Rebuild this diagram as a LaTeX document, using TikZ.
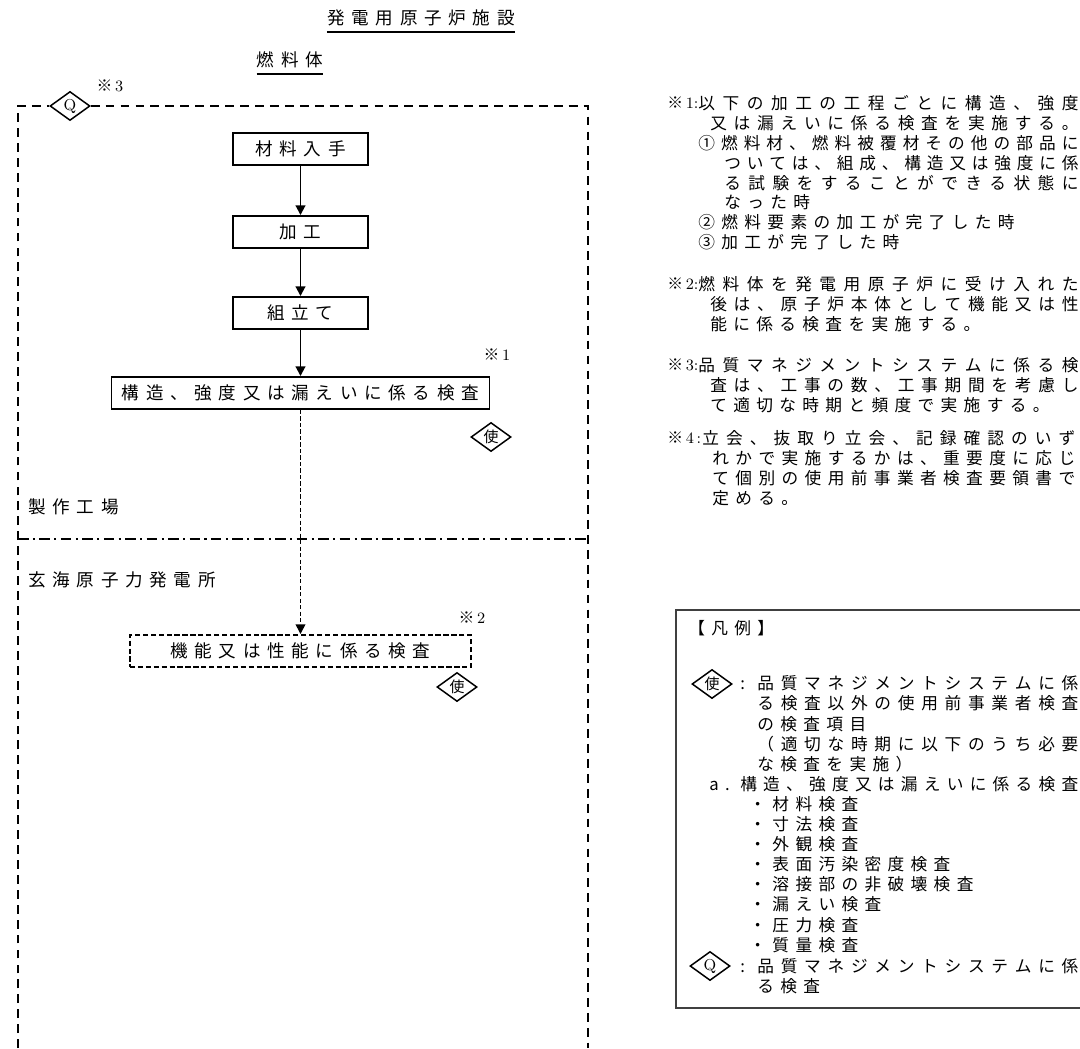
\documentclass[tikz,border=0pt]{standalone}
\usepackage{fontspec}
\usepackage{tikz}
\usetikzlibrary{positioning}
\usetikzlibrary{shapes.geometric}
\usetikzlibrary{arrows.meta}
\newfontfamily\jpfont[LetterSpace=38]{Noto Sans CJK JP}
\newfontfamily\jpplain{Noto Sans CJK JP}
% spread one line of text over a given width
\makeatletter
\def\jus@#1{\ifx\relax#1\else#1\hskip 0pt plus 1fil minus 3pt\expandafter\jus@\fi}
\newcommand{\fl}[2]{\hbox to #1{\jus@#2\relax\unskip}}
\makeatother
\newcommand{\kome}[1]{{\jpplain ※}\,#1}

\begin{document}
\begin{tikzpicture}[
    jtext/.style={font=\jpfont\fontsize{10}{12}\selectfont, inner sep=0pt},
    ntext/.style={font=\jpfont\fontsize{9.5}{11.27}\selectfont, inner sep=0pt, align=left, anchor=north west},
    ltext/.style={font=\jpfont\fontsize{9.5}{11.44}\selectfont, inner sep=0pt, align=left, anchor=north west},
    remark/.style={inner sep=0pt, font=\fontsize{9}{10}\selectfont},
    stepbox/.style={draw, line width=1.1pt, minimum width=2.7cm, minimum height=0.64cm, inner sep=0pt, font=\jpfont\fontsize{10}{12}\selectfont},
    checkbox/.style={stepbox, minimum width=7.56cm},
    plantbox/.style={stepbox, minimum width=6.82cm, dash pattern=on 3pt off 1.5pt},
    usebox/.style={diamond, draw, line width=0.85pt, inner sep=0pt, aspect=1.4, minimum width=0.8cm, minimum height=0.58cm, font=\jpplain\fontsize{8.5}{9}\selectfont},
    qbox/.style={usebox, font=\fontsize{9}{9}\selectfont},
    flow/.style={line width=1.1pt, -{Triangle[length=5.5pt,width=5.5pt]}},
    dflow/.style={line width=0.8pt, dash pattern=on 2.5pt off 1.2pt, -{Triangle[length=5.5pt,width=5.5pt]}},
    frame/.style={line width=1pt, dash pattern=on 5pt off 3.5pt},
    chain/.style={line width=0.9pt, dash pattern=on 6pt off 2.5pt on 1.2pt off 2.5pt},
    legline/.style={line width=0.9pt, black!75}
    ]
\useasboundingbox (0,0) rectangle (21.6,-20.96);

% titles
\node[jtext] (ttl) at (8.42,-0.36) {発電用原子炉施設};
\draw[line width=1pt] ([yshift=-3pt]ttl.south west) -- ([yshift=-3pt]ttl.south east);
\node[jtext] (fuel) at (5.8,-1.2) {燃料体};
\draw[line width=1pt] ([yshift=-3pt]fuel.south west) -- ([yshift=-3pt]fuel.south east);

% frame
\node[qbox] (qtop) at (1.4,-2.12) {Q};
\node[remark] (r3) at (2.2,-1.72) {\kome{3}};
\draw[frame] (0.36,-20.96) -- (0.36,-2.12) -- (qtop.west);
\draw[frame] (qtop.east) -- (11.76,-2.12) -- (11.76,-20.96);
\draw[chain] (0.36,-10.78) -- (11.76,-10.78);

\node[jtext, anchor=west] (works) at (0.56,-10.14) {製作工場};
\node[jtext, anchor=west] (plant) at (0.56,-11.6) {玄海原子力発電所};

% flow
\node[stepbox] (buy) at (6.01,-2.98) {材料入手};
\node[stepbox] (work) at (6.01,-4.64) {加工};
\node[stepbox] (asm) at (6.01,-6.26) {組立て};
\node[checkbox] (chk) at (6.01,-7.86) {構造、強度又は漏えいに係る検査};
\node[plantbox] (perf) at (6.01,-13.02) {機能又は性能に係る検査};

\draw[flow] (buy) -- (work);
\draw[flow] (work) -- (asm);
\draw[flow] (asm) -- (chk);
\draw[dflow] (chk) -- (perf);

\node[remark] (r1) at (9.94,-7.1) {\kome{1}};
\node[remark] (r2) at (9.44,-12.36) {\kome{2}};
\node[usebox] (use1) at (9.82,-8.74) {使};
\node[usebox] (use2) at (9.14,-13.74) {使};

% notes
\node[remark, anchor=west] (n1m) at (13.34,-2.06) {\kome{1}:};
\node[ntext] (n1) at (13.96,-1.91) {\fl{216.3pt}{以下の加工の工程ごとに構造、強度}\\
\hspace*{6.8pt}\fl{209.5pt}{又は漏えいに係る検査を実施する。}\\
\fl{216.3pt}{①燃料材、燃料被覆材その他の部品に}\\
\hspace*{14.8pt}\fl{201.5pt}{ついては、組成、構造又は強度に係}\\
\hspace*{14.8pt}\fl{201.5pt}{る試験をすることができる状態に}\\
\hspace*{14.8pt}なった時\\
②燃料要素の加工が完了した時\\
③加工が完了した時};

\node[remark, anchor=west] (n2m) at (13.34,-5.68) {\kome{2}:};
\node[ntext] (n2) at (13.96,-5.53) {\fl{216.3pt}{燃料体を発電用原子炉に受け入れた}\\
\hspace*{6.8pt}\fl{209.5pt}{後は、原子炉本体として機能又は性}\\
\hspace*{6.8pt}能に係る検査を実施する。};

\node[remark, anchor=west] (n3m) at (13.34,-7.3) {\kome{3}:};
\node[ntext] (n3) at (13.96,-7.15) {\fl{216.3pt}{品質マネジメントシステムに係る検}\\
\hspace*{6.8pt}\fl{209.5pt}{査は、工事の数、工事期間を考慮し}\\
\hspace*{6.8pt}て適切な時期と頻度で実施する。};

\node[remark, anchor=west] (n4m) at (13.34,-8.76) {\kome{4}\,:};
\node[ntext] (n4) at (14.04,-8.61) {\fl{212.2pt}{立会、抜取り立会、記録確認のいず}\\
\hspace*{5.7pt}\fl{206.5pt}{れかで実施するかは、重要度に応じ}\\
\hspace*{5.7pt}\fl{206.5pt}{て個別の使用前事業者検査要領書で}\\
\hspace*{5.7pt}定める。};

% legend
\draw[legline] (21.8,-12.2) -- (13.52,-12.2) -- (13.52,-20.16) -- (21.8,-20.16);
\node[jtext, anchor=west, font=\jpfont\fontsize{9.5}{11}\selectfont] (lgd) at (13.76,-12.56) {【凡例】};
\node[usebox] (use3) at (14.24,-13.68) {使};
\node[ltext] (l1) at (15.14,-13.51) {\llap{:\hspace{7pt}}\fl{182.7pt}{品質マネジメントシステムに係}\\
\fl{182.7pt}{る検査以外の使用前事業者検査}\\
の検査項目\\
\fl{182.7pt}{（適切な時期に以下のうち必要}\\
な検査を実施）\\
\hspace*{-9.7pt}\llap{a.\hspace{6pt}}\fl{192.3pt}{構造、強度又は漏えいに係る検査}\\
\hspace*{-4.5pt}・材料検査\\
\hspace*{-4.5pt}・寸法検査\\
\hspace*{-4.5pt}・外観検査\\
\hspace*{-4.5pt}・表面汚染密度検査\\
\hspace*{-4.5pt}・溶接部の非破壊検査\\
\hspace*{-4.5pt}・漏えい検査\\
\hspace*{-4.5pt}・圧力検査\\
\hspace*{-4.5pt}・質量検査};
\node[qbox] (qleg) at (14.2,-19.32) {Q};
\node[ltext] (l2) at (15.14,-19.16) {\llap{:\hspace{7pt}}\fl{182.7pt}{品質マネジメントシステムに係}\\
る検査};

\end{tikzpicture}
\end{document}
